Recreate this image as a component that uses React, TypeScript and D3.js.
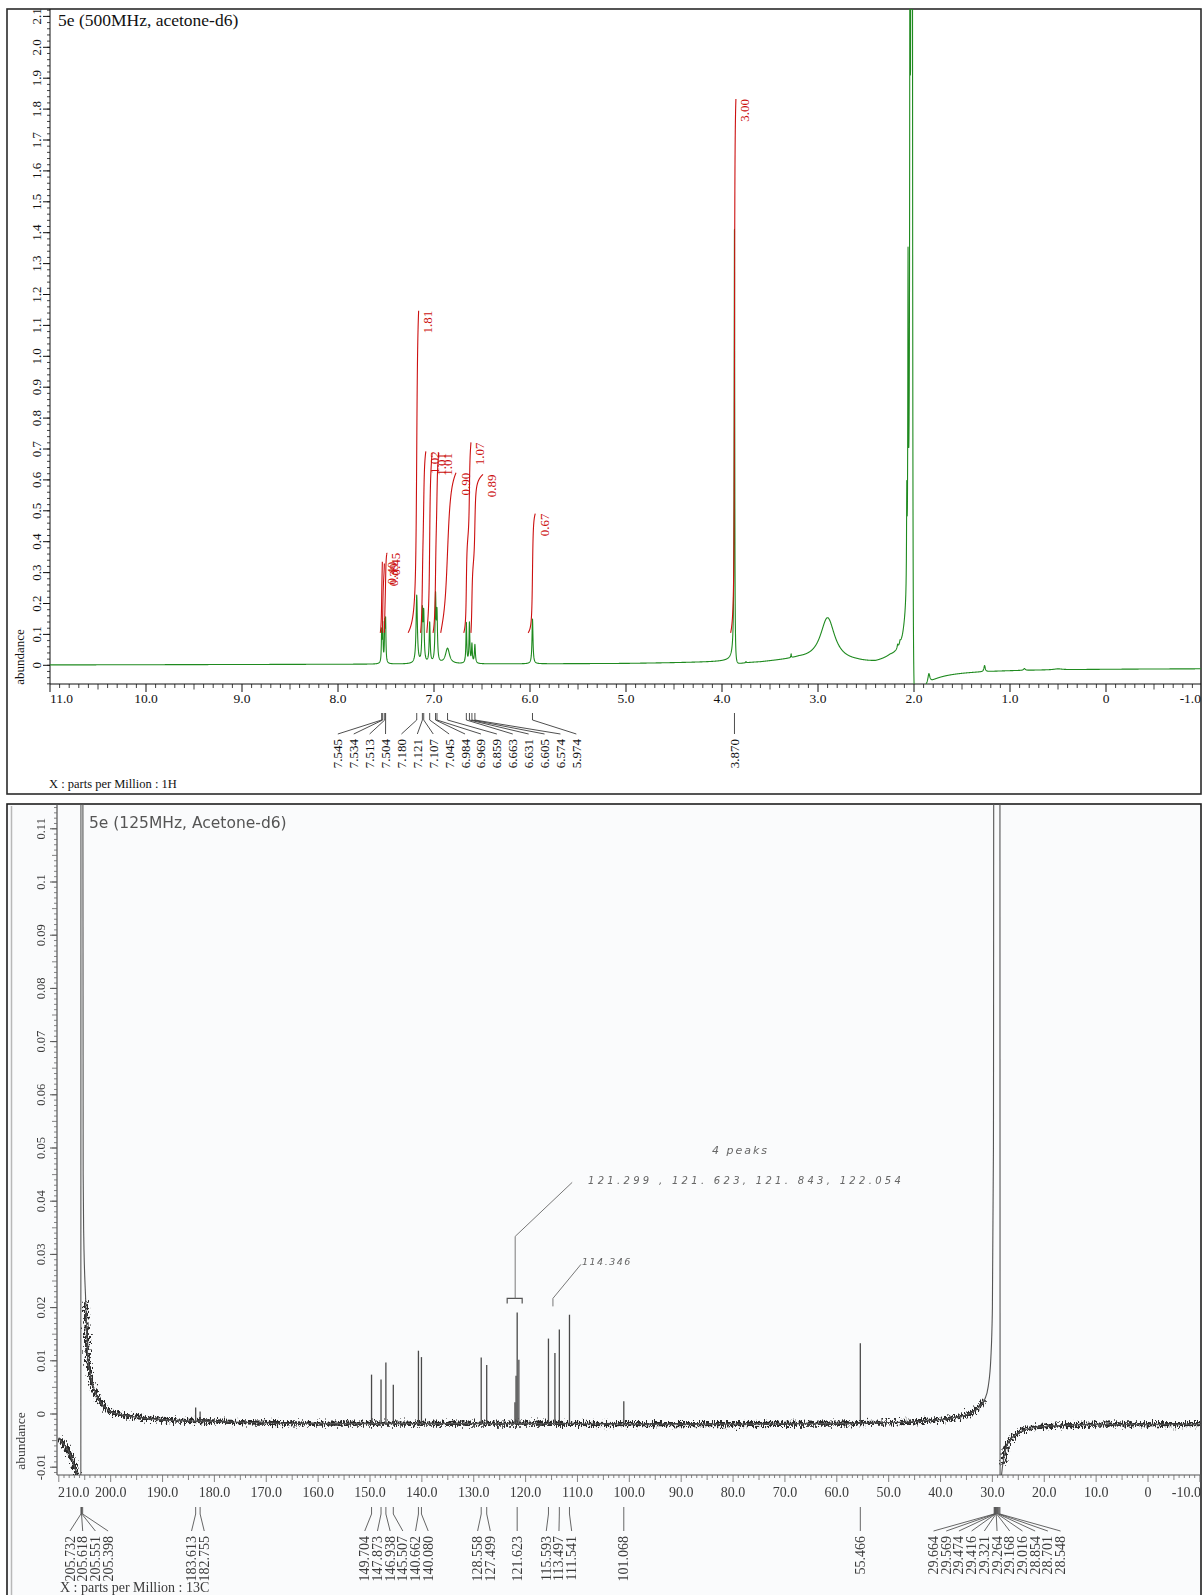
import React from "react";
import * as d3 from "d3";

const W = 1203;
const H = 1595;

// ---------- 1H spectrum (500 MHz, acetone-d6) ----------
const hTitle = "5e (500MHz, acetone-d6)";
const hXLabel = "X : parts per Million : 1H";
const hXTickValues = [11, 10, 9, 8, 7, 6, 5, 4, 3, 2, 1, 0, -1];
const hYTickValues = [0, 0.1, 0.2, 0.3, 0.4, 0.5, 0.6, 0.7, 0.8, 0.9, 1.0, 1.1, 1.2, 1.3, 1.4, 1.5, 1.6, 1.7, 1.8, 1.9, 2.0, 2.1];

// resolved lines: position (ppm), height (abundance), Lorentzian half-width (ppm)
const hLinePpm = [7.545, 7.534, 7.513, 7.504, 7.18, 7.121, 7.107, 7.045, 6.984, 6.969, 6.859, 6.663, 6.631, 6.605, 6.574, 5.974, 3.87, 3.75, 3.28, 2.9, 2.17, 2.145, 2.075, 2.062, 2.042, 2.022, 1.845, 1.265, 0.85, 0.5];
const hLineHeight = [0.1, 0.12, 0.12, 0.13, 0.22, 0.16, 0.15, 0.13, 0.21, 0.15, 0.05, 0.13, 0.13, 0.06, 0.06, 0.145, 1.4, 0.004, 0.012, 0.14, 0.012, 0.01, 0.3, 0.95, 1.8, 12, 0.03, 0.02, 0.006, 0.003];
const hLineWidth = [0.004, 0.004, 0.004, 0.004, 0.008, 0.006, 0.006, 0.006, 0.006, 0.006, 0.025, 0.005, 0.005, 0.005, 0.006, 0.006, 0.0035, 0.003, 0.003, 0.09, 0.006, 0.006, 0.003, 0.003, 0.003, 0.004, 0.012, 0.008, 0.01, 0.05];

// phase-distorted (dispersive) parts of the strong singlets
const hDispPpm = [2.022, 3.87];
const hDispArea = [0.01, 0.0006];
const hDispWidth = [0.004, 0.0035];

// baseline drift
const hBasePpm = [11, 8, 5, 4.2, 3.6, 3.2, 2.6, 2.4, 2.25, 2.12, 2.0, -1];
const hBaseVal = [0, 0.0015, 0.002, 0.004, 0.005, 0.012, -0.006, -0.016, -0.014, -0.03, -0.008, -0.008];

// integrals
const hIntFrom = [7.56, 7.538, 7.517, 7.27, 7.14, 7.075, 7.01, 6.93, 6.69, 6.615, 6.02, 3.91];
const hIntTo = [7.538, 7.517, 7.49, 7.16, 7.085, 7.02, 6.95, 6.77, 6.615, 6.49, 5.945, 3.855];
const hIntValue = [0.4, 0.39, 0.45, 1.81, 1.02, 1.01, 1.01, 0.9, 1.07, 0.89, 0.67, 3.0];

// peak picking
const hPickAromatic = [7.545, 7.534, 7.513, 7.504, 7.18, 7.121, 7.107, 7.045, 6.984, 6.969, 6.859, 6.663, 6.631, 6.605, 6.574, 5.974];
const hPickMethoxy = [3.87];

// ---------- 13C spectrum (125 MHz, acetone-d6) ----------
const cTitle = "5e (125MHz, Acetone-d6)";
const cXLabel = "X : parts per Million : 13C";
const cXTickValues = [210, 200, 190, 180, 170, 160, 150, 140, 130, 120, 110, 100, 90, 80, 70, 60, 50, 40, 30, 20, 10, 0, -10];
const cYTickValues = [0.11, 0.1, 0.09, 0.08, 0.07, 0.06, 0.05, 0.04, 0.03, 0.02, 0.01, 0, -0.01];

// baseline trace including the solvent signals (ppm, abundance)
const cBasePpm = [210.1, 209.2, 208.2, 207.2, 206.5, 206.1, 205.75, 205.72, 205.42, 205.3, 205.2, 204.8, 204.4, 204.0, 203.4, 202.6, 202.0, 201.0, 200, 195, 190, 180, 160, 140, 120, 100, 80, 60, 45, 38, 34, 32.5, 31.5, 30.8, 30.3, 30.0, 29.8, 29.68, 28.56, 28.52, 28.0, 27.2, 26.2, 25.3, 22.2, 18, 10, -10.2];
const cBaseVal = [-0.0045, -0.0055, -0.0068, -0.0092, -0.0115, -0.013, -0.0135, 0.2, 0.2, 0.045, 0.034, 0.021, 0.0105, 0.0078, 0.0052, 0.0033, 0.0022, 0.0012, 0.0004, -0.0006, -0.0011, -0.0014, -0.0018, -0.0018, -0.0018, -0.0019, -0.0019, -0.0018, -0.0014, -0.0008, 0.0003, 0.0014, 0.0027, 0.0052, 0.0105, 0.02, 0.05, 0.2, 0.2, -0.013, -0.0095, -0.0058, -0.0045, -0.0037, -0.0026, -0.0022, -0.002, -0.0019];

// sample lines (ppm, height above baseline)
const cLinePpm = [183.613, 182.755, 149.704, 147.873, 146.938, 145.507, 140.662, 140.08, 128.558, 127.499, 122.054, 121.843, 121.623, 121.299, 115.593, 114.346, 113.497, 111.541, 101.068, 55.466];
const cLineHeight = [0.0025, 0.0018, 0.0092, 0.0083, 0.0115, 0.0073, 0.0137, 0.0125, 0.0124, 0.011, 0.004, 0.009, 0.0209, 0.012, 0.016, 0.0133, 0.0177, 0.0205, 0.0043, 0.015];

// peak picking
const cPickCarbonyl = [205.732, 205.618, 205.551, 205.398];
const cPick183 = [183.613, 182.755];
const cPick149 = [149.704, 147.873, 146.938, 145.507, 140.662, 140.08];
const cPick128 = [128.558, 127.499];
const cPick121 = [121.623];
const cPick115 = [115.593, 113.497, 111.541];
const cPick101 = [101.068];
const cPick55 = [55.466];
const cPickMethyl = [29.664, 29.569, 29.474, 29.416, 29.321, 29.264, 29.168, 29.016, 28.854, 28.701, 28.548];

const cNoteCount = "4  peaks";
const cNoteList = "121.299 , 121. 623, 121. 843, 122.054";
const cNoteExtra = "114.346";

// ---------- helpers ----------
const lorentz = (p: number, c: number, h: number, w: number) => {
  const d = p - c;
  return (h * w * w) / (d * d + w * w);
};
const dispersive = (p: number, c: number, a: number, w: number) => {
  const d = p - c;
  return (a * d) / (d * d + w * w);
};

const hBase = d3.scaleLinear().domain(hBasePpm).range(hBaseVal).clamp(true);
const hPeaksOnly = (p: number) => {
  let s = 0;
  for (let i = 0; i < hLinePpm.length; i++) s += lorentz(p, hLinePpm[i], hLineHeight[i], hLineWidth[i]);
  return s;
};
const hSpectrum = (p: number) => {
  let s = hBase(p) + hPeaksOnly(p);
  for (let i = 0; i < hDispPpm.length; i++) s += dispersive(p, hDispPpm[i], hDispArea[i], hDispWidth[i]);
  return s;
};

const cBase = d3.scaleLinear().domain(cBasePpm).range(cBaseVal).clamp(true);

function spreadLabels(ppms: number[], x: (p: number) => number, spacing: number, minX = -Infinity) {
  const xp = ppms.map(x);
  const mid = (xp[0] + xp[xp.length - 1]) / 2;
  let start = mid - ((ppms.length - 1) / 2) * spacing;
  if (start < minX) start = minX;
  return ppms.map((p, i) => ({ p, xPeak: xp[i], xLabel: start + i * spacing }));
}

const fmtAxis = (v: number) => (v === 0 ? "0" : v.toFixed(1));
const fmtY = (v: number) => String(+v.toFixed(2));

export default function App() {
  // ---------- top panel scales ----------
  const xH = d3.scaleLinear().domain([11, -1]).range([50, 1202]);
  const yH = d3.scaleLinear().domain([0, 2]).range([665.3, 47.3]);
  const hPlot = { x0: 50, x1: 1201, y0: 9, y1: 684 };

  const grid = d3.range(11.0, -1.0, -0.0015).concat(hLinePpm).sort((a, b) => b - a);
  const hLine = d3
    .line<number>()
    .x((p) => xH(p))
    .y((p) => yH(Math.max(-0.2, Math.min(3, hSpectrum(p)))));
  const hPath = hLine(grid) || "";

  const intBase = 0.105;
  const intScale = 0.576;
  const integrals = hIntValue.map((v, i) => {
    const from = hIntFrom[i];
    const to = hIntTo[i];
    const n = 160;
    const ps = d3.range(n + 1).map((k) => from + ((to - from) * k) / n);
    const vals = ps.map(hPeaksOnly);
    const cum = [0];
    for (let k = 1; k <= n; k++) cum.push(cum[k - 1] + (vals[k] + vals[k - 1]) / 2);
    const tot = cum[n] || 1;
    const pts = ps.map((p, k) => [xH(p), yH(intBase + v * intScale * (cum[k] / tot))] as [number, number]);
    const d = d3.line().curve(d3.curveMonotoneX)(pts) || "";
    return { d, xTop: xH(to), yTop: yH(intBase + v * intScale), label: v.toFixed(2) };
  });

  const hPicks = [spreadLabels(hPickAromatic, xH, 15.9), spreadLabels(hPickMethoxy, xH, 15.9)];

  const hMinorX = d3.range(110, -11, -1).map((k) => k / 10);
  const hMinorY = d3.range(-3, 107).map((k) => k * 0.02);

  // ---------- bottom panel scales ----------
  const xC = d3.scaleLinear().domain([150, 0]).range([370, 1148]);
  const yC = d3.scaleLinear().domain([0, 0.1]).range([1414, 882]);
  const cPlot = { x0: 57, x1: 1201, y0: 804, y1: 1475 };

  const knots = cBasePpm.map((p, i) => [p, cBaseVal[i]] as [number, number]);
  const cLine = d3
    .line<[number, number]>()
    .curve(d3.curveMonotoneX)
    .x((d) => xC(d[0]))
    .y((d) => yC(d[1]));
  const cPath = cLine(knots) || "";
  const noiseRanges: [number, number][] = [
    [210.1, 205.8],
    [204.8, 31.0],
    [28.45, -10.2],
  ];
  const noisePaths = noiseRanges.map(([hi, lo]) => cLine(knots.filter((k) => k[0] <= hi && k[0] >= lo)) || "");
  const sticks = cLinePpm.map((p, i) => {
    const b = cBase(p);
    return { x: xC(p), y1: yC(b), y2: yC(b + cLineHeight[i]) };
  });

  const cPicks = [
    spreadLabels(cPickCarbonyl, xC, 12.7, 70),
    spreadLabels(cPick183, xC, 12.7),
    spreadLabels(cPick149, xC, 12.7),
    spreadLabels(cPick128, xC, 12.7),
    spreadLabels(cPick121, xC, 12.7),
    spreadLabels(cPick115, xC, 12.7),
    spreadLabels(cPick101, xC, 12.7),
    spreadLabels(cPick55, xC, 12.7),
    spreadLabels(cPickMethyl, xC, 12.7),
  ];
  const cMinorX = d3.range(210, -11, -1);
  const cMinorY = d3.range(-11, 115).map((k) => k / 1000);

  // annotation anchors
  const p121 = xC(121.623);
  const top121 = yC(cBase(121.623) + 0.0209);
  const brY = top121 - 14;
  const p114 = xC(114.346);

  const green = "#1f8a1f";
  const red = "#cc1010";
  const ink = "#3a3a3a";

  // edge labels are pulled inside the frame
  const hTickX = (v: number) => (v === 11 ? xH(v) : v === -1 ? 1201 : xH(v));
  const hTickAnchor = (v: number) => (v === 11 ? "start" : v === -1 ? "end" : "middle");
  const cTickX = (v: number) => (v === 210 ? cPlot.x0 + 1 : v === -10 ? 1201 : xC(v));
  const cTickAnchor = (v: number) => (v === 210 ? "start" : v === -10 ? "end" : "middle");

  return (
    <svg
      width={W}
      height={H}
      viewBox={`0 0 ${W} ${H}`}
      style={{ position: "absolute", left: 0, top: 0, background: "#fff" }}
      fontFamily="'Liberation Serif', 'Times New Roman', serif"
    >
      <defs>
        <clipPath id="hClip">
          <rect x={hPlot.x0} y={hPlot.y0} width={hPlot.x1 - hPlot.x0} height={hPlot.y1 - hPlot.y0} />
        </clipPath>
        <clipPath id="cClip">
          <rect x={cPlot.x0 + 1} y={cPlot.y0} width={cPlot.x1 - cPlot.x0 - 1} height={cPlot.y1 - cPlot.y0} />
        </clipPath>
        <filter id="scan" filterUnits="userSpaceOnUse" x="0" y="790" width={W} height={H - 790}>
          <feGaussianBlur stdDeviation="0.55" />
        </filter>
        <filter id="grain" filterUnits="userSpaceOnUse" x="0" y="790" width={W} height={H - 790}>
          <feTurbulence type="fractalNoise" baseFrequency="0.9 0.3" numOctaves="2" seed="7" result="noise" />
          <feDisplacementMap in="SourceGraphic" in2="noise" scale="12" xChannelSelector="R" yChannelSelector="G" />
        </filter>
      </defs>

      {/* ================= 1H panel ================= */}
      <rect x={7} y={9} width={1194} height={785} fill="#fff" stroke="#2b2b2b" strokeWidth={1.6} />
      <text x={58} y={26} fontSize={17.5} fill="#111">
        {hTitle}
      </text>

      {/* y axis */}
      <line x1={hPlot.x0} y1={hPlot.y0} x2={hPlot.x0} y2={hPlot.y1} stroke="#111" strokeWidth={1} />
      {hMinorY.map((v, i) => (
        <line key={"hmy" + i} x1={hPlot.x0 - 3} x2={hPlot.x0} y1={yH(v)} y2={yH(v)} stroke="#111" strokeWidth={0.8} />
      ))}
      {hYTickValues.map((v) => (
        <g key={"hy" + v}>
          <line x1={hPlot.x0 - 7} x2={hPlot.x0} y1={yH(v)} y2={yH(v)} stroke="#111" strokeWidth={1} />
          <text
            transform={`translate(36,${yH(v)}) rotate(-90)`}
            textAnchor="middle"
            dominantBaseline="central"
            fontSize={13}
            fill="#111"
          >
            {v === 0 ? "0" : v.toFixed(1)}
          </text>
        </g>
      ))}
      <text transform="translate(19,657) rotate(-90)" textAnchor="middle" dominantBaseline="central" fontSize={13} fill="#111">
        abundance
      </text>

      {/* x axis */}
      <line x1={hPlot.x0} y1={hPlot.y1} x2={hPlot.x1} y2={hPlot.y1} stroke="#111" strokeWidth={1} />
      {hMinorX.map((v, i) => {
        const x = xH(v);
        if (x > hPlot.x1) return null;
        const major = Math.abs(v - Math.round(v)) < 1e-6;
        const half = Math.abs(v * 2 - Math.round(v * 2)) < 1e-6;
        return (
          <line
            key={"hmx" + i}
            x1={x}
            x2={x}
            y1={hPlot.y1}
            y2={hPlot.y1 + (major ? 8 : half ? 5.5 : 4)}
            stroke="#111"
            strokeWidth={major ? 1 : 0.8}
          />
        );
      })}
      {hXTickValues.map((v) => (
        <text key={"hx" + v} x={hTickX(v)} y={703} textAnchor={hTickAnchor(v)} fontSize={13.5} fill="#111">
          {fmtAxis(v)}
        </text>
      ))}
      <text x={49} y={788} fontSize={12.5} fill="#111">
        {hXLabel}
      </text>

      {/* trace and integrals */}
      <g clipPath="url(#hClip)">
        <path d={hPath} fill="none" stroke={green} strokeWidth={1.1} strokeLinejoin="round" />
        {integrals.map((g, i) => (
          <path key={"int" + i} d={g.d} fill="none" stroke={red} strokeWidth={1.1} />
        ))}
      </g>
      {integrals.map((g, i) => (
        <text
          key={"intl" + i}
          transform={`translate(${g.xTop + 9},${g.yTop}) rotate(-90)`}
          textAnchor="end"
          dominantBaseline="central"
          fontSize={13}
          fill={red}
        >
          {g.label}
        </text>
      ))}

      {/* peak picking */}
      {hPicks.flat().map((pk, i) => (
        <g key={"hp" + i}>
          <path
            d={`M${pk.xPeak},713 L${pk.xPeak},720 L${pk.xLabel},734`}
            fill="none"
            stroke="#222"
            strokeWidth={0.8}
          />
          <text
            transform={`translate(${pk.xLabel},739) rotate(-90)`}
            textAnchor="end"
            dominantBaseline="central"
            fontSize={13}
            fill="#111"
          >
            {pk.p.toFixed(3)}
          </text>
        </g>
      ))}

      {/* ================= 13C panel ================= */}
      <rect x={7} y={804} width={1194} height={800} fill="#fafbfc" stroke="#1e1e1e" strokeWidth={1.6} />
      <g filter="url(#scan)">
        <line x1={11.5} y1={806} x2={11.5} y2={H} stroke="#b8b8b8" strokeWidth={1.5} />
        <text x={89} y={828} fontSize={15.5} fill="#555" fontFamily="'DejaVu Sans', sans-serif">
          {cTitle}
        </text>

        {/* y axis */}
        <line x1={cPlot.x0} y1={cPlot.y0} x2={cPlot.x0} y2={cPlot.y1} stroke="#555" strokeWidth={1.2} />
        {cMinorY.map((v, i) => {
          const five = Math.abs(v * 200 - Math.round(v * 200)) < 1e-6;
          return (
            <line
              key={"cmy" + i}
              x1={cPlot.x0 - (five ? 5 : 3)}
              x2={cPlot.x0}
              y1={yC(v)}
              y2={yC(v)}
              stroke="#666"
              strokeWidth={0.8}
            />
          );
        })}
        {cYTickValues.map((v) => (
          <g key={"cy" + v}>
            <line x1={cPlot.x0 - 7} x2={cPlot.x0} y1={yC(v)} y2={yC(v)} stroke="#555" strokeWidth={1} />
            <text
              transform={`translate(41,${yC(v)}) rotate(-90)`}
              textAnchor="middle"
              dominantBaseline="central"
              fontSize={12.5}
              fill={ink}
            >
              {fmtY(v)}
            </text>
          </g>
        ))}
        <text transform="translate(20,1441) rotate(-90)" textAnchor="middle" dominantBaseline="central" fontSize={13.5} fill={ink}>
          abundance
        </text>

        {/* x axis */}
        <line x1={cPlot.x0} y1={cPlot.y1} x2={cPlot.x1} y2={cPlot.y1} stroke="#555" strokeWidth={1.2} />
        {cMinorX.map((v) => {
          const x = xC(v);
          if (x > cPlot.x1 || x < cPlot.x0) return null;
          const len = v % 10 === 0 ? 7 : v % 5 === 0 ? 5 : 3;
          return <line key={"cmx" + v} x1={x} x2={x} y1={cPlot.y1} y2={cPlot.y1 + len} stroke="#666" strokeWidth={0.8} />;
        })}
        {cXTickValues.map((v) => (
          <text key={"cx" + v} x={cTickX(v)} y={1497} textAnchor={cTickAnchor(v)} fontSize={14} fill={ink}>
            {fmtAxis(v)}
          </text>
        ))}

        {/* trace */}
        <g clipPath="url(#cClip)">
          <g filter="url(#grain)">
            {noisePaths.map((d, i) => (
              <path key={"np" + i} d={d} fill="none" stroke="#2a2a2a" strokeWidth={4.2} />
            ))}
          </g>
          <path d={cPath} fill="none" stroke="#555" strokeWidth={1.1} />
          {sticks.map((s, i) => (
            <line key={"st" + i} x1={s.x} x2={s.x} y1={s.y1} y2={s.y2} stroke="#4a4a4a" strokeWidth={1.3} />
          ))}
        </g>

        {/* peak picking */}
        {cPicks.flat().map((pk, i) => (
          <g key={"cp" + i}>
            <path
              d={`M${pk.xPeak},1507 L${pk.xPeak},1514 L${pk.xLabel},1531`}
              fill="none"
              stroke="#555"
              strokeWidth={0.9}
            />
            <text
              transform={`translate(${pk.xLabel},1536) rotate(-90)`}
              textAnchor="end"
              dominantBaseline="central"
              fontSize={14}
              fill={ink}
            >
              {pk.p.toFixed(3)}
            </text>
          </g>
        ))}
        <text x={60} y={1592} fontSize={14} fill={ink}>
          {cXLabel}
        </text>

        {/* handwritten notes */}
        <path
          d={`M${p121 - 10},${brY + 5} L${p121 - 10},${brY} L${p121 + 5},${brY} L${p121 + 5},${brY + 5}`}
          fill="none"
          stroke="#555"
          strokeWidth={1.2}
        />
        <path
          d={`M${p121 - 2},${brY} L${p121 - 2},${brY - 62} L${p121 + 55},${brY - 116}`}
          fill="none"
          stroke="#777"
          strokeWidth={1}
        />
        <path d={`M${p114 - 2},${brY + 8} L${p114 - 2},${brY} L${p114 + 26},${brY - 34}`} fill="none" stroke="#777" strokeWidth={1} />
        <g fontFamily="'DejaVu Sans', sans-serif" fontStyle="italic" fill="#666">
          <text x={712} y={1154} fontSize={11} letterSpacing={2}>
            {cNoteCount}
          </text>
          <text x={588} y={1184} fontSize={10} letterSpacing={3.3}>
            {cNoteList}
          </text>
          <text x={582} y={1265} fontSize={9.5} letterSpacing={1.5}>
            {cNoteExtra}
          </text>
        </g>
      </g>
    </svg>
  );
}
